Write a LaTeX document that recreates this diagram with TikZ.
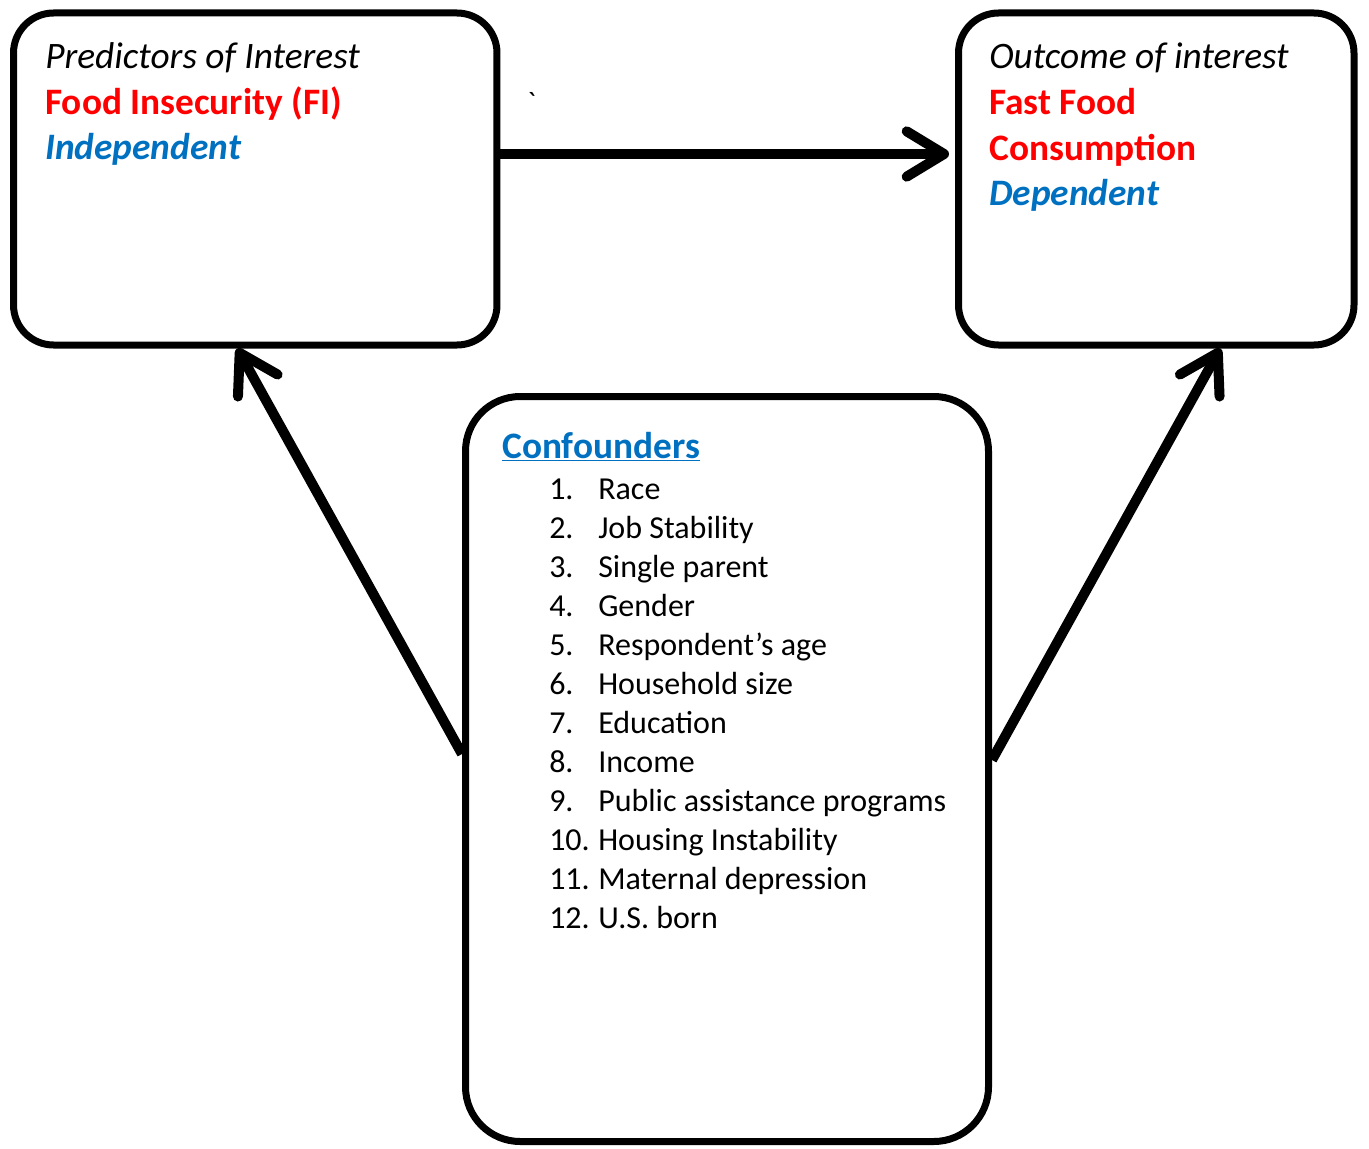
\documentclass[tikz,border=0pt]{standalone}
\usepackage{fontspec}
\setmainfont{Carlito}
\newfontfamily\gravefont{Carlito}[Ligatures=ResetAll]
\usetikzlibrary{arrows.meta,calc}
\definecolor{ored}{HTML}{FF0000}
\definecolor{oblue}{HTML}{0070C0}
\begin{document}
\begin{tikzpicture}[x=0.75pt,y=-0.75pt,
  box/.style={draw,line width=5.25pt,rounded corners=30pt,inner sep=0pt},
  txt/.style={anchor=base west,inner sep=0pt,font=\fontsize{28}{28}\selectfont},
  item/.style={anchor=base west,inner sep=0pt,font=\fontsize{24}{24}\selectfont},
  conn/.style={line width=7.5pt,-{Straight Barb[length=28pt,width=34pt,round]}}]
\useasboundingbox[fill=white] (0,0) rectangle (1369,1148);
% boxes
\node[box,minimum width=362.6pt,minimum height=249pt] (pred) at (255.25,179) {};
\node[box,minimum width=296.6pt,minimum height=249pt] (outc) at (1156.25,179) {};
\node[box,rounded corners=41pt,minimum width=392.25pt,minimum height=558.75pt] (conf) at (727,769) {};
% texts left
\node[txt] (p1) at (45,69) {\itshape Predictors of Interest};
\node[txt,text=ored] (p2) at (45,115) {\bfseries Food Insecurity (FI)};
\node[txt,text=oblue] (p3) at (45,160) {\bfseries\itshape Independent};
% texts right
\node[txt] (o1) at (989,69) {\itshape Outcome of interest};
\node[txt,text=ored] (o2) at (989,115) {\bfseries Fast Food};
\node[txt,text=ored] (o3) at (989,161) {\bfseries Consumption};
\node[txt,text=oblue] (o4) at (989,206) {\bfseries\itshape Dependent};
% tick
\node[txt,font=\fontsize{22}{22}\gravefont] (tick) at (527,113) {\char"60};
% confounders
\node[txt,text=oblue] (ch) at (502,458) {\bfseries\underline{Confounders}};
\foreach \n/\t [count=\i from 0] in {1./Race,2./Job Stability,3./Single parent,4./Gender,5./Respondent’s age,6./Household size,7./Education,8./Income,9./Public assistance programs,10./Housing Instability,11./Maternal depression,12./U.S. born}{
  \node[item] (n\i) at (549,499+39*\i) {\n};
  \node[item] (t\i) at (598,499+39*\i) {\t};
}
% connectors
\draw[conn] ($(pred.east)+(-3,-25)$) -- ($(outc.west)+(-6,-25)$);
\draw[conn] ($(conf.west)+(0,-15)$) -- ($(pred.south)+(-18,0)$);
\draw[conn] ($(conf.east)+(0,-9)$) -- ($(outc.south)+(64,0)$);
\end{tikzpicture}
\end{document}
